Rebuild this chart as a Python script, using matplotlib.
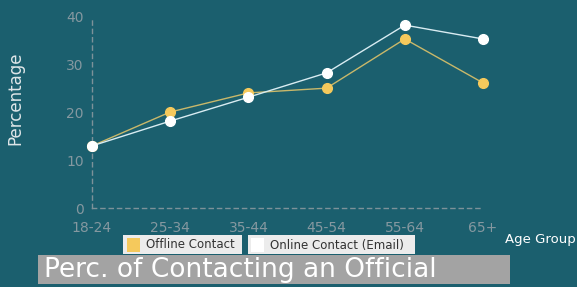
import matplotlib.pyplot as plt
from matplotlib.patches import Rectangle

age_groups = ["18-24", "25-34", "35-44", "45-54", "55-64", "65+"]
offline = [13.0, 20.1, 24.1, 25.1, 35.4, 26.2]
online = [13.0, 18.2, 23.2, 28.3, 38.3, 35.4]
y_ticks = [0, 10, 20, 30, 40]

BG = "#1b5f6e"
GRID = "#7d9299"
YELLOW = "#f5c95c"

fig = plt.figure(figsize=(5.77, 2.87), dpi=100, facecolor=BG)
ax = fig.add_axes([92 / 577, 79 / 287, 391 / 577, 191 / 287], facecolor=BG)

x = list(range(len(age_groups)))
ax.plot(x, offline, color="#c9b86a", linewidth=1.0, marker="o", markersize=7,
        markerfacecolor=YELLOW, markeredgecolor=YELLOW, clip_on=False, zorder=3)
ax.plot(x, online, color="#d8ecf2", linewidth=1.0, marker="o", markersize=7,
        markerfacecolor="white", markeredgecolor="white", clip_on=False, zorder=4)

ax.set_xlim(0, len(age_groups) - 1)
ax.set_ylim(0, 40)
ax.set_xticks(x)
ax.set_xticklabels(age_groups)
ax.set_yticks(y_ticks)
ax.tick_params(length=0, colors="#8598a0", labelsize=10)
ax.tick_params(axis="x", pad=9)
ax.tick_params(axis="y", pad=6)
for side in ["top", "right"]:
    ax.spines[side].set_visible(False)
for side in ["left", "bottom"]:
    ax.spines[side].set_color(GRID)
    ax.spines[side].set_linestyle((0, (3, 3)))
    ax.spines[side].set_linewidth(1.0)

fig.text(15 / 577, 1 - 98 / 287, "Percentage", rotation=90,
         color="#dfe6e8", fontsize=12, ha="center", va="center")
fig.text(505 / 577, 1 - 239 / 287, "Age Group", color="white", fontsize=9.5,
         ha="left", va="center")

# legend boxes
fig.patches.append(Rectangle((123 / 577, 1 - 254 / 287), 119 / 577, 19 / 287,
                             transform=fig.transFigure, facecolor="#ececec",
                             edgecolor="none"))
fig.patches.append(Rectangle((127 / 577, 1 - 252 / 287), 13 / 577, 14 / 287,
                             transform=fig.transFigure, facecolor=YELLOW,
                             edgecolor="none"))
fig.text(146 / 577, 1 - 245 / 287, "Offline Contact", color="#333333", fontsize=8.5,
         ha="left", va="center")
fig.patches.append(Rectangle((248 / 577, 1 - 254 / 287), 167 / 577, 19 / 287,
                             transform=fig.transFigure, facecolor="#ececec",
                             edgecolor="none"))
fig.patches.append(Rectangle((251 / 577, 1 - 252 / 287), 13 / 577, 14 / 287,
                             transform=fig.transFigure, facecolor="white",
                             edgecolor="none"))
fig.text(270 / 577, 1 - 245 / 287, "Online Contact (Email)", color="#333333",
         fontsize=8.5, ha="left", va="center")

# title bar
fig.patches.append(Rectangle((38 / 577, 1 - 284 / 287), 472 / 577, 29 / 287,
                             transform=fig.transFigure, facecolor="#a3a3a3",
                             edgecolor="none"))
fig.text(44 / 577, 1 - 270 / 287, "Perc. of Contacting an Official", color="white",
         fontsize=19, ha="left", va="center")

fig.savefig("out.png", dpi=100, facecolor=BG)
